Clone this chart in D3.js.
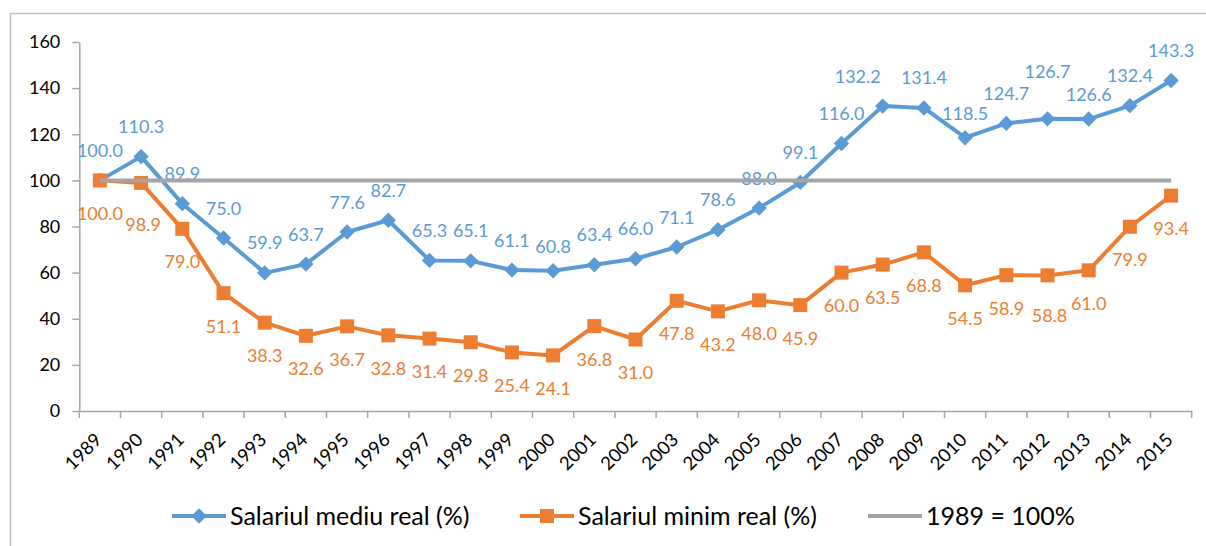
<!DOCTYPE html>
<html>
<head>
<meta charset="utf-8">
<script src="https://cdn.jsdelivr.net/npm/d3@7"></script>
<style>
  body { margin: 0; background: #fff; }
  svg { display: block; font-family: Lato, "Open Sans", sans-serif; }
</style>
</head>
<body>
<div id="chart"></div>
<script>
const years = ['1989', '1990', '1991', '1992', '1993', '1994', '1995', '1996', '1997', '1998',
  '1999', '2000', '2001', '2002', '2003', '2004', '2005', '2006', '2007', '2008',
  '2009', '2010', '2011', '2012', '2013', '2014', '2015'];

const salariulMediu = [100.0, 110.3, 89.9, 75.0, 59.9, 63.7, 77.6, 82.7, 65.3, 65.1,
  61.1, 60.8, 63.4, 66.0, 71.1, 78.6, 88.0, 99.1, 116.0, 132.2,
  131.4, 118.5, 124.7, 126.7, 126.6, 132.4, 143.3];

const salariulMinim = [100.0, 98.9, 79.0, 51.1, 38.3, 32.6, 36.7, 32.8, 31.4, 29.8,
  25.4, 24.1, 36.8, 31.0, 47.8, 43.2, 48.0, 45.9, 60.0, 63.5,
  68.8, 54.5, 58.9, 58.8, 61.0, 79.9, 93.4];

const baseline = years.map(() => 100);

const yTicks = [0, 20, 40, 60, 80, 100, 120, 140, 160];

const seriesNames = ['Salariul mediu real (%)', 'Salariul minim real (%)', '1989 = 100%'];

// manual label nudges, like the hand-placed labels in the original
const mediuNudge = {'2000': [0, 6], '2008': [-25, 0], '2010': [0, 6], '2012': [0, -17], '2013': [0, 5]};
const minimNudge = {'1990': [2, 9], '2012': [2, 7]};

const width = 1206, height = 546;
const margin = {top: 42, left: 79.3, right: 14.3, bottom: 135};

const blue = '#5B9BD5', orange = '#ED7D31', gray = '#A5A5A5';

const svg = d3.select('#chart').append('svg')
  .attr('width', width)
  .attr('height', height);

// outer chart border
svg.append('rect')
  .attr('x', 10.5).attr('y', 13.5)
  .attr('width', width).attr('height', height)
  .attr('fill', 'none')
  .attr('stroke', '#BFBFBF')
  .attr('stroke-width', 1.5);

const x = d3.scaleBand().domain(years).range([margin.left, width - margin.right]);
const y = d3.scaleLinear().domain([0, 160]).range([height - margin.bottom, margin.top]);
const cx = d => x(d) + x.bandwidth() / 2;

// y axis
const yAxis = svg.append('g')
  .attr('transform', `translate(${margin.left},0)`)
  .call(d3.axisLeft(y).tickValues(yTicks).tickSize(7).tickPadding(12).tickSizeOuter(0));
yAxis.select('.domain').attr('stroke', '#A6A6A6').attr('stroke-width', 1.5);
yAxis.selectAll('.tick line').attr('stroke', '#A6A6A6').attr('stroke-width', 1.5);
yAxis.selectAll('text').attr('font-size', 18).attr('fill', '#000').attr('font-family', 'Lato');

// x axis
const xAxis = svg.append('g')
  .attr('transform', `translate(0,${y(0)})`)
  .call(d3.axisBottom(x).tickSize(0).tickSizeOuter(0));
xAxis.select('.domain').attr('stroke', '#A6A6A6').attr('stroke-width', 1.5);
xAxis.selectAll('.tick text')
  .attr('font-size', 18.5)
  .attr('fill', '#000')
  .attr('font-family', 'Lato')
  .attr('text-anchor', 'end')
  .attr('y', 0).attr('dy', 0)
  .attr('transform', `translate(3,30) rotate(-45)`);

const bounds = years.map(d => x(d)).concat([x(years[years.length - 1]) + x.bandwidth()]);
xAxis.selectAll('.bound')
  .data(bounds)
  .enter().append('line')
  .attr('class', 'bound')
  .attr('x1', d => d).attr('x2', d => d)
  .attr('y1', 0).attr('y2', 7)
  .attr('stroke', '#A6A6A6').attr('stroke-width', 1.5);

const line = d3.line().x((d, i) => cx(years[i])).y(d => y(d));

function drawSeries(values, color, marker) {
  svg.append('path')
    .datum(values)
    .attr('d', line)
    .attr('fill', 'none')
    .attr('stroke', color)
    .attr('stroke-width', 4)
    .attr('stroke-linejoin', 'round');
  svg.append('g').selectAll('path')
    .data(values)
    .enter().append('path')
    .attr('transform', (d, i) => `translate(${cx(years[i])},${y(d)})`)
    .attr('d', marker)
    .attr('fill', color);
}

const diamond = d3.symbol().type(d3.symbolDiamond2).size(150);
const square = d3.symbol().type(d3.symbolSquare).size(196);

drawSeries(salariulMediu, blue, diamond);
drawSeries(salariulMinim, orange, square);

function drawLabels(values, color, dy, nudge) {
  svg.append('g').selectAll('text')
    .data(values)
    .enter().append('text')
    .attr('x', (d, i) => cx(years[i]) + (nudge[years[i]] ? nudge[years[i]][0] : 0))
    .attr('y', (d, i) => y(d) + dy + (nudge[years[i]] ? nudge[years[i]][1] : 0))
    .attr('dy', '0.36em')
    .attr('text-anchor', 'middle')
    .attr('font-size', 18)
    .attr('fill', color)
    .text(d => d.toFixed(1));
}

drawLabels(salariulMediu, blue, -30, mediuNudge);
drawLabels(salariulMinim, orange, 33, minimNudge);

// 1989 = 100% reference line on top
svg.append('path')
  .datum(baseline)
  .attr('d', line)
  .attr('fill', 'none')
  .attr('stroke', gray)
  .attr('stroke-width', 4);

// legend
const legendY = 516;
const legendItems = [
  {name: seriesNames[0], color: blue, marker: diamond, x: 172},
  {name: seriesNames[1], color: orange, marker: square, x: 520},
  {name: seriesNames[2], color: gray, marker: null, x: 868}
];
const legend = svg.append('g').selectAll('g')
  .data(legendItems)
  .enter().append('g')
  .attr('transform', d => `translate(${d.x},${legendY})`);
legend.append('line')
  .attr('x1', 0).attr('x2', 54)
  .attr('stroke', d => d.color)
  .attr('stroke-width', 4);
legend.filter(d => d.marker)
  .append('path')
  .attr('transform', 'translate(27,0)')
  .attr('d', d => d.marker())
  .attr('fill', d => d.color);
legend.append('text')
  .attr('x', 58)
  .attr('dy', '0.36em')
  .attr('font-size', 25)
  .attr('fill', '#000')
  .text(d => d.name);
</script>
</body>
</html>
